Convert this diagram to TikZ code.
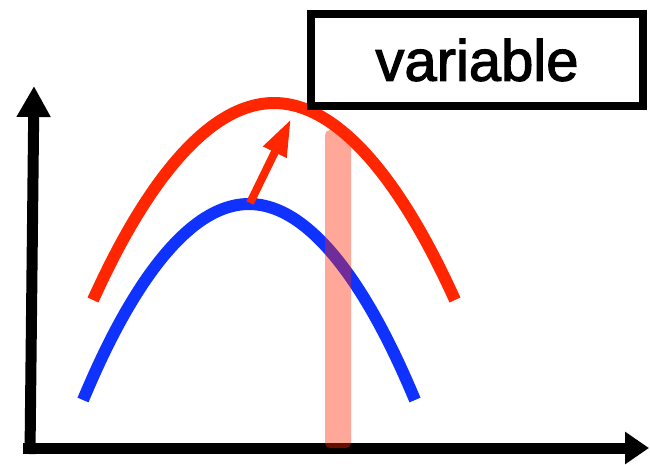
\documentclass[tikz,border=0pt]{standalone}
\usepackage{fontspec}
\setmainfont{Liberation Sans}
\newfontfamily\lblfont{Liberation Sans}[FakeBold=2]
\usetikzlibrary{arrows.meta}
\definecolor{cred}{RGB}{255,38,0}
\definecolor{cblue}{RGB}{16,50,255}
\tikzset{
  axis/.style={line width=11pt, black},
  curve/.style={line width=12pt},
  labelbox/.style={draw, line width=8pt, fill=white, minimum width=332pt, minimum height=92pt, inner sep=0pt, font=\lblfont\fontsize{58}{60}\selectfont}
}
\begin{document}
\begin{tikzpicture}[x=1pt,y=-1pt]
\useasboundingbox (0,0) rectangle (650,464);
% axes
\coordinate (origin) at (30,454);
\coordinate (ytop) at (34,86);
\coordinate (xstart) at (23,448);
\coordinate (xend) at (649,448);
\draw[axis, -{Triangle[length=31pt,width=32pt]}] (origin) -- (ytop);
\draw[axis, -{Triangle[length=24pt,width=31pt]}] (xstart) -- (xend);
% curves
\coordinate (rl) at (93,300);
\coordinate (rp) at (274,103);
\coordinate (rr) at (455,300);
\coordinate (bl) at (83,400);
\coordinate (bp) at (249,204);
\coordinate (br) at (415,400);
\draw[curve, cred] (rl) parabola bend (rp) (rr);
\draw[curve, cblue] (bl) parabola bend (bp) (br);
% shift arrow
\coordinate (as) at (250,203);
\coordinate (ae) at (291,119);
\draw[cred, line width=8pt, -{Triangle[length=37pt,width=24pt]}] (as) -- (ae);
% highlight bar
\fill[cred, opacity=0.4, rounded corners=5pt] (325,130) rectangle (351,448);
% label box
\node[labelbox] (box) at (477,60) {variable};
\end{tikzpicture}
\end{document}
